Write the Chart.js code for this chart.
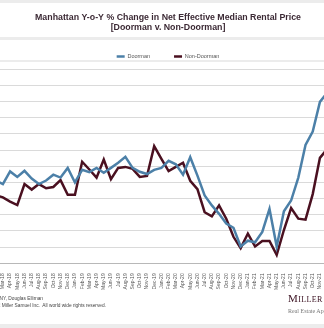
<!DOCTYPE html>
<html>
<head>
<meta charset="utf-8">
<script src="https://cdn.jsdelivr.net/npm/chart.js@4.4.1/dist/chart.umd.min.js"></script>
<style>
  html, body { margin: 0; padding: 0; background: #fff; }
  #wrap { position: relative; width: 324px; height: 328px; overflow: hidden; }
  #chart { position: absolute; left: 0; top: 0; }
  .src { position: absolute; font-family: "Liberation Sans", Arial, sans-serif; font-size: 4.8px; color: #444; white-space: nowrap; }
  .logo { position: absolute; left: 288px; top: 292px; font-family: "Liberation Serif", serif; color: #3a1020; font-size: 11px; font-variant: small-caps; letter-spacing: 0.4px; white-space: nowrap; }
  .tag { position: absolute; left: 288px; top: 308px; font-family: "Liberation Serif", serif; color: #777; font-size: 6px; white-space: nowrap; }
</style>
</head>
<body>
<div id="wrap">
  <canvas id="chart" width="336" height="328"></canvas>
  <div class="src" style="right:281px; top:296px;">Source: Miller Samuel Real Estate Appraisers &amp; Consultants, REBNY, Douglas Elliman</div>
  <div class="src" style="right:218px; top:303px;">&copy;2022 Miller Samuel Inc.&nbsp; All world wide rights reserved.</div>
  <div class="logo">Miller Samuel</div>
  <div class="tag">Real Estate Appraisers &amp; Consultants</div>
</div>
<script>
// monthly y-o-y % change, Feb-18 .. Dec-21
var months = ['Feb-18','Mar-18','Apr-18','May-18','Jun-18','Jul-18','Aug-18','Sep-18','Oct-18','Nov-18','Dec-18',
  'Jan-19','Feb-19','Mar-19','Apr-19','May-19','Jun-19','Jul-19','Aug-19','Sep-19','Oct-19','Nov-19','Dec-19',
  'Jan-20','Feb-20','Mar-20','Apr-20','May-20','Jun-20','Jul-20','Aug-20','Sep-20','Oct-20','Nov-20','Dec-20',
  'Jan-21','Feb-21','Mar-21','Apr-21','May-21','Jun-21','Jul-21','Aug-21','Sep-21','Oct-21','Nov-21','Dec-21'];

var doorman = [-4.4, -5.5, -1.6, -3.3, -1.4, -3.8, -5.5, -4.4, -2.6, -3.5, -0.5, -5.0,
  -1.1, -1.8, -0.5, -2.0, -0.5, 1.1, 2.9, -0.5, -1.7, -2.4, -1.1, -0.5,
  1.7, 0.6, -2.6, 2.8, -2.9, -9.0, -12.1, -14.7, -17.7, -19.0, -24.8, -23.0,
  -23.5, -20.3, -13.2, -24.8, -13.9, -10.6, -3.5, 6.6, 10.7, 19.9, 22.7];

var nonDoorman = [-9.0, -9.6, -10.9, -12.0, -5.5, -7.2, -5.5, -6.8, -6.4, -4.3, -8.8, -8.8,
  1.4, -1.0, -3.5, 2.1, -4.0, -0.5, -0.2, -0.8, -3.3, -3.0, 6.2, 2.3,
  -1.5, -0.2, 1.1, -4.5, -7.1, -14.2, -15.5, -12.1, -16.2, -21.8, -25.3, -20.8,
  -24.8, -23.1, -23.1, -27.4, -19.7, -12.9, -16.2, -16.5, -8.6, 2.6, 5.3];

var titleLines = ['Manhattan Y-o-Y % Change in Net Effective Median Rental Price', '[Doorman v. Non-Doorman]'];

Chart.defaults.font.family = '"Liberation Sans", Arial, sans-serif';

function toPoints(arr) {
  return arr.map(function (v, i) { return { x: i, y: v }; });
}

// light grey separator bands
var bands = {
  id: 'bands',
  beforeDraw: function (chart) {
    var ctx = chart.ctx, w = chart.width;
    ctx.save();
    ctx.fillStyle = '#ececec';
    ctx.fillRect(0, 0, w, 3);
    ctx.fillRect(0, 37, w, 3);
    ctx.fillRect(0, 60, w, 2);
    ctx.fillRect(0, 324, w, 4);
    ctx.restore();
  }
};

new Chart(document.getElementById('chart'), {
  type: 'line',
  data: {
    datasets: [
      { label: 'Doorman', data: toPoints(doorman), borderColor: '#4c80a8', backgroundColor: '#4c80a8',
        borderWidth: 2.5, pointRadius: 0, tension: 0 },
      { label: 'Non-Doorman', data: toPoints(nonDoorman), borderColor: '#4a1020', backgroundColor: '#4a1020',
        borderWidth: 2.5, pointRadius: 0, tension: 0 }
    ]
  },
  options: {
    responsive: false,
    animation: false,
    layout: { padding: { left: 0, right: 0, top: 0, bottom: 36 } },
    plugins: {
      title: {
        display: true, text: titleLines, color: '#3c2a35',
        font: { size: 8.8, weight: 'bold', lineHeight: 1.12 },
        padding: { top: 13, bottom: -3 }
      },
      legend: {
        labels: {
          boxWidth: 8, boxHeight: 2.5, color: '#555', padding: 24,
          font: { size: 5.5 },
          generateLabels: function (c) {
            return Chart.defaults.plugins.legend.labels.generateLabels(c).map(function (l) {
              l.lineWidth = 0;
              return l;
            });
          }
        }
      },
      tooltip: { enabled: false }
    },
    scales: {
      x: {
        type: 'linear', min: 0.6, max: 47.23, offset: false,
        grid: { display: false },
        border: { display: true, color: '#b8b8b8' },
        ticks: {
          stepSize: 1, autoSkip: false, includeBounds: false, maxTicksLimit: 100,
          maxRotation: 90, minRotation: 90, padding: 2,
          font: { size: 5 }, color: '#555',
          callback: function (v) { return months[v] || ''; }
        },
        afterFit: function (s) { s.paddingLeft = 0; s.paddingRight = 0; }
      },
      y: {
        min: -30, max: 30,
        ticks: { display: false, stepSize: 5 },
        grid: { color: '#dadada', lineWidth: 1, drawTicks: false },
        border: { display: false },
        afterFit: function (s) { s.width = 0; s.paddingTop = 0; s.paddingBottom = 0; }
      }
    }
  },
  plugins: [bands]
});
</script>
</body>
</html>
